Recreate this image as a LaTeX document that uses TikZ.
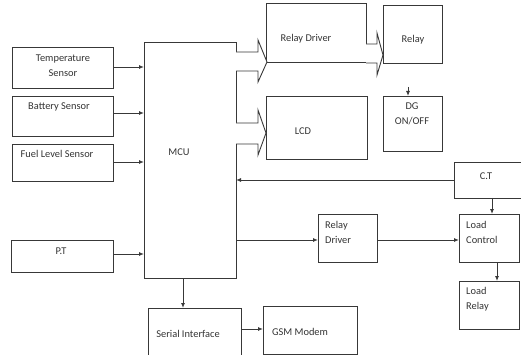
\documentclass[tikz,border=0pt]{standalone}
\usepackage{fontspec}
\setmainfont{Carlito}
\usetikzlibrary{arrows.meta,calc}
\begin{document}
\begin{tikzpicture}[x=1pt,y=-1pt,
  lc/.style={draw=black!78,line width=0.9pt},
  box/.style={lc,rectangle,anchor=north west,inner sep=0pt,outer sep=0pt},
  lbl/.style={font=\fontsize{10.4}{15}\selectfont,text=black!80,inner sep=0pt},
  lbll/.style={lbl,anchor=west,align=left},
  arr/.style={lc,-{Latex[length=5pt,width=4pt]}},
  blockarr/.style={lc,fill=white,line join=miter}]
\useasboundingbox (0,0) rectangle (521,355);
% boxes
\node[box,minimum width=101pt,minimum height=41pt] (tmp) at (12,47) {};
\node[box,minimum width=101pt,minimum height=40pt] (bat) at (12,96) {};
\node[box,minimum width=101pt,minimum height=37pt] (fuel) at (12,144) {};
\node[box,minimum width=102pt,minimum height=32pt] (pt) at (11,240) {};
\node[box,minimum width=92pt,minimum height=236pt] (mcu) at (144,42) {};
\node[box,minimum width=93pt,minimum height=52pt] (ser) at (148,308) {};
\node[box,minimum width=94pt,minimum height=48pt] (gsm) at (263,306) {};
\node[box,minimum width=100pt,minimum height=59pt] (rdA) at (266,3) {};
\node[box,minimum width=59pt,minimum height=58pt] (relay) at (383,5) {};
\node[box,minimum width=59pt,minimum height=55pt] (dg) at (383,96) {};
\node[box,minimum width=101pt,minimum height=63pt] (lcd) at (266,96) {};
\node[box,minimum width=75pt,minimum height=36pt] (ct) at (454,162) {};
\node[box,minimum width=60pt,minimum height=48pt] (lcon) at (459,214) {};
\node[box,minimum width=60pt,minimum height=48pt] (lrel) at (459,281) {};
\node[box,minimum width=59pt,minimum height=48pt] (rdB) at (318,214) {};
% labels
\node[lbl,align=center] (tmpl) at (63,66) {Temperature\\Sensor};
\node[lbl] (batl) at (59,107) {Battery Sensor};
\node[lbl] (fuell) at (57,154) {Fuel Level Sensor};
\node[lbl] (ptl) at (61,251) {P.T};
\node[lbl] (mcul) at (179,152) {MCU};
\node[lbl] (rdAl) at (306,39) {Relay Driver};
\node[lbl] (relayl) at (413,40) {Relay};
\node[lbl,align=center] (dgl) at (412,114) {DG\\ON/OFF};
\node[lbl] (lcdl) at (303,131) {LCD};
\node[lbl] (ctl) at (486,176) {C.T};
\node[lbll] (rdBl) at (325,232) {Relay\\Driver};
\node[lbll] (lconl) at (466,232) {Load\\Control};
\node[lbll] (lrell) at (466,299) {Load\\Relay};
\node[lbl] (serl) at (188,334) {Serial Interface};
\node[lbl] (gsml) at (300,332) {GSM Modem};
% input arrows
\draw[arr] (tmp.east |- 0,67) -- (mcu.west |- 0,67);
\draw[arr] (bat.east |- 0,113) -- (mcu.west |- 0,113);
\draw[arr] (fuel.east |- 0,162) -- (mcu.west |- 0,162);
\draw[arr] (pt.east |- 0,254) -- (mcu.west |- 0,254);
% other arrows
\draw[arr] (ct.west |- 0,180) -- (mcu.east |- 0,180);
\draw[arr] (mcu.east |- 0,240) -- (rdB.west |- 0,240);
\draw[arr] (rdB.east |- 0,240) -- (lcon.west |- 0,240);
\draw[arr] (ct.south -| 492,0) -- (lcon.north -| 492,0);
\draw[arr] (lcon.south -| 497,0) -- (lrel.north -| 497,0);
\draw[arr] (mcu.south -| 183,0) -- (ser.north -| 183,0);
\draw[arr] (ser.east |- 0,329) -- (gsm.west |- 0,329);
\coordinate (dgin) at (408,87);
\draw[arr] (dgin) -- (dg.north -| dgin);
% block arrows
\draw[blockarr] (236,52) -- (258,52) -- (258,40) -- (267,62) -- (258,82) -- (258,71) -- (236,71);
\draw[blockarr] (236,123) -- (258,123) -- (258,110) -- (266,133) -- (258,155) -- (258,144) -- (236,144);
\draw[blockarr] (366,44) -- (377,44) -- (377,33) -- (383,55) -- (377,75) -- (377,63) -- (366,63);
\end{tikzpicture}
\end{document}
